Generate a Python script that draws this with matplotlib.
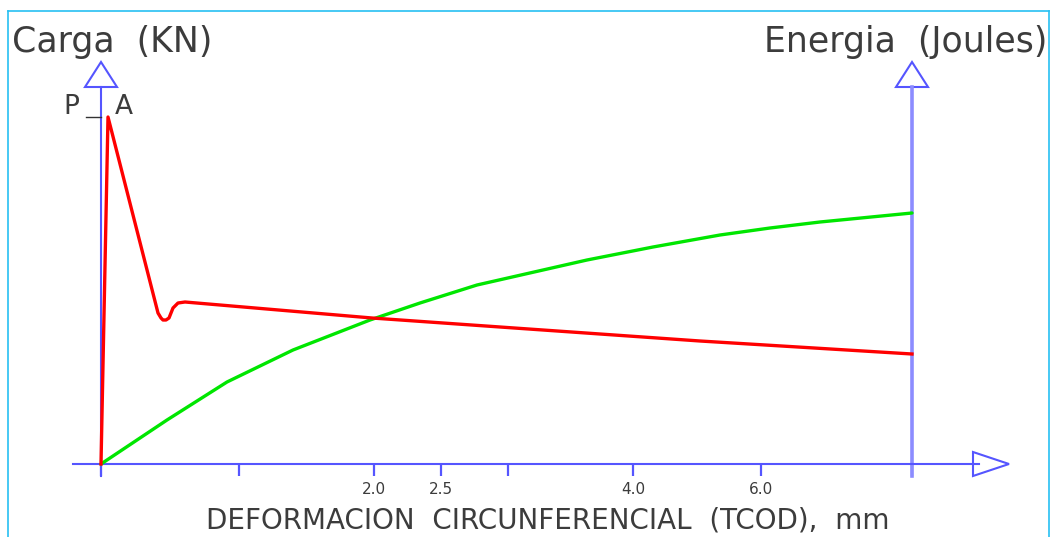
import numpy as np
import matplotlib
matplotlib.use("Agg")
import matplotlib.pyplot as plt
import matplotlib.patches as patches
from matplotlib.lines import Line2D

# carga (red) and energia (green) in screen-ish units
# x = position along the TCOD axis, y = height above the x axis
load_x = [0, 7, 57, 60, 62, 65, 68, 72, 77, 84, 271, 399, 599, 811]
load_y = [0, 347, 151, 146, 144, 144, 146, 156, 161, 162, 146, 137, 123, 110]
energy_x = [0, 66, 126, 192, 269, 319, 376, 486, 552, 619, 669, 719, 811]
energy_y = [0, 44, 82, 114, 144, 161, 179, 204, 217, 229, 236, 242, 251]

tick_pos = [0, 138, 273, 340, 407, 532, 660, 811]
tick_labels = ["", "", "2.0", "2.5", "", "4.0", "6.0", ""]

x_end = 811          # right (energy) axis
y_top = 402          # tip of vertical arrows
x_tip = 908          # tip of horizontal arrow
peak = 347

blue = "#5555ff"
txt = "#3c3c3c"
plt.rcParams["font.family"] = ["DejaVu Sans"]

fig = plt.figure(figsize=(10.57, 5.37), dpi=100)
ax = fig.add_axes([0, 0, 1, 1])
ax.set_xlim(-101, 956)
ax.set_ylim(-73, 464)

for s in ["top", "right", "left"]:
    ax.spines[s].set_visible(False)
ax.spines["bottom"].set_position(("data", 0))
ax.spines["bottom"].set_bounds(-28, x_tip - 30)
ax.spines["bottom"].set_color(blue)
ax.spines["bottom"].set_linewidth(1.5)
ax.set_yticks([])
ax.set_xticks(tick_pos, labels=tick_labels)
ax.tick_params(axis="x", direction="out", length=8.6, width=1.6, color=blue,
               pad=4, labelsize=11, labelcolor=txt)

# vertical axes
ax.plot([0, 0], [-12, y_top - 25], color=blue, lw=1.5, zorder=2)
ax.plot([x_end, x_end], [-12, y_top - 25], color="#8c8cff", lw=2.6, zorder=2)

# open arrow heads
for cx in [0, x_end]:
    ax.add_patch(patches.Polygon([[cx - 16, y_top - 25], [cx + 16, y_top - 25], [cx, y_top]],
                                 closed=True, fill=False, edgecolor=blue, lw=1.5))
ax.add_patch(patches.Polygon([[x_tip - 36, 12], [x_tip - 36, -12], [x_tip, 0]],
                             closed=True, fill=False, edgecolor=blue, lw=1.5))

ax.plot(energy_x, energy_y, color="#00e600", lw=2.4, zorder=3, solid_capstyle="round")
ax.plot(load_x, load_y, color="#ff0000", lw=2.4, zorder=4, solid_joinstyle="round")

# peak mark P_A
ax.plot([-15, 0], [peak, peak], color="#333333", lw=1.0)
ax.text(-30, peak + 10, "P", fontsize=19, color=txt, ha="center", va="center")
ax.text(23, peak + 10, "A", fontsize=19, color=txt, ha="center", va="center")

ax.text(-89, 422, "Carga  (KN)", fontsize=25, color=txt, ha="left", va="center")
ax.text(946, 422, "Energia  (Joules)", fontsize=25, color=txt, ha="right", va="center")
ax.text(447, -57, "DEFORMACION  CIRCUNFERENCIAL  (TCOD),  mm", fontsize=20,
        color=txt, ha="center", va="center")

# light frame around the drawing
fc = "#28c0f2"
fig.add_artist(Line2D([8 / 1057, 8 / 1057], [0, 1 - 10.5 / 537], color=fc, lw=1.2))
fig.add_artist(Line2D([8 / 1057, 1049 / 1057], [1 - 10.5 / 537, 1 - 10.5 / 537], color=fc, lw=1.2))
fig.add_artist(Line2D([1049 / 1057, 1049 / 1057], [0, 1 - 10.5 / 537], color=fc, lw=1.2))

fig.savefig("out.png", dpi=100)
